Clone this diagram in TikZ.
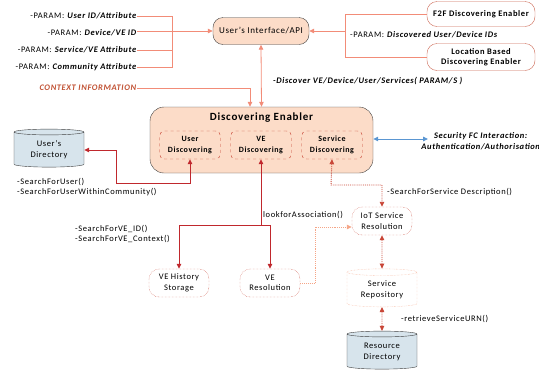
\documentclass[tikz,border=0pt]{standalone}
\usepackage{fontspec}
\setmainfont{Carlito}[LetterSpace=7]
\usetikzlibrary{shapes.geometric,arrows.meta}
\definecolor{peach}{RGB}{252,220,200}
\definecolor{dgray}{RGB}{64,64,64}
\definecolor{salmonl}{RGB}{242,140,120}
\definecolor{redl}{RGB}{192,40,45}
\definecolor{redd}{RGB}{200,70,55}
\definecolor{salmond}{RGB}{245,165,135}
\definecolor{bluel}{RGB}{90,150,210}
\definecolor{cylfill}{RGB}{215,228,236}
\definecolor{ctxcol}{RGB}{192,80,50}
\definecolor{enbord}{RGB}{205,105,85}
\tikzset{
  txt/.style={font=\fontsize{8.5}{10.5}\selectfont, inner sep=0pt},
  uibox/.style={draw=dgray, fill=peach, rounded corners=10pt, minimum width=96, minimum height=27, font=\fontsize{9}{10.5}\selectfont, inner sep=1pt, align=center},
  enbox/.style={draw=enbord, fill=white, rounded corners=10pt, minimum width=108, minimum height=25, font=\fontsize{8.5}{10.5}\selectfont\bfseries, inner sep=1pt, align=center},
  debox/.style={draw=dgray, fill=peach, rounded corners=14pt, minimum width=223, minimum height=66, inner sep=0pt},
  subbox/.style={draw=redd, dashed, fill=peach, rounded corners=5pt, minimum width=61, minimum height=28, font=\fontsize{8}{10.5}\selectfont\bfseries, align=center, inner sep=1pt},
  dotbox/.style={draw=redd, densely dotted, fill=white, rounded corners=10pt, minimum width=60, minimum height=28, font=\fontsize{8.5}{10.5}\selectfont, align=center, inner sep=1pt},
  cyl/.style={cylinder, shape border rotate=90, aspect=0.15, draw=dgray, fill=cylfill, minimum height=38, minimum width=70, font=\fontsize{8.5}{11}\selectfont, align=center, inner sep=1pt},
  tip/.style={-{Triangle[length=5pt,width=4.5pt]}},
  btip/.style={{Triangle[length=5pt,width=4.5pt]}-{Triangle[length=5pt,width=4.5pt]}},
  sline/.style={draw=salmonl, line width=0.8pt},
  rline/.style={draw=redl, line width=1pt},
  rdot/.style={draw=redd, line width=0.9pt, densely dotted},
}
\begin{document}
\begin{tikzpicture}[x=1pt,y=-1pt]
\useasboundingbox (0,0) rectangle (539,373);
% top-left parameters
\node[txt, anchor=east] (p1) at (137,16) {-PARAM: \textbf{\textit{User ID/Attribute}}};
\node[txt, anchor=east] (p2) at (137,33) {-PARAM: \textbf{\textit{Device/VE ID}}};
\node[txt, anchor=east] (p3) at (137,50) {-PARAM: \textbf{\textit{Service/VE Attribute}}};
\node[txt, anchor=east] (p4) at (137,67) {-PARAM: \textbf{\textit{Community Attribute}}};
\node[txt, anchor=east, text=ctxcol] (ctx) at (137,88) {\textbf{\textit{CONTEXT INFORMATION}}};
\coordinate (jl) at (172,33);
% user's interface
\node[uibox] (ui) at (261,31) {User's Interface/API};
% enablers
\node[enbox] (f2f) at (481,14) {F2F Discovering Enabler};
\node[enbox, minimum height=27] (loc) at (481,57) {Location Based\\Discovering Enabler};
\coordinate (jr) at (345,31);
\node[txt, anchor=west] (pd) at (350,35) {-PARAM: \textbf{\textit{Discovered User/Device IDs}}};
\node[txt, anchor=west] (disc) at (273,81) {\textbf{\textit{-Discover VE/Device/User/Services( PARAM/S )}}};
% discovering enabler
\node[debox] (de) at (261.5,140) {};
\node[font=\fontsize{11}{13}\selectfont\bfseries, inner sep=0pt] (detitle) at (261.5,118) {Discovering Enabler};
\node[subbox] (ud) at (190,145) {User\\Discovering};
\node[subbox] (vd) at (261,145) {VE\\Discovering};
\node[subbox] (sd) at (332,145) {Service\\Discovering};
% security
\coordinate (secend) at (428,139);
\node[txt, align=center] (sec) at (481,141) {\textbf{\textit{Security FC Interaction:}}\\\textbf{\textit{Authentication/Authorisation}}};
% users directory
\node[cyl] (udir) at (49,150) {User's\\Directory};
\node[txt, anchor=north west, align=left] (sfu) at (17,178) {-SearchForUser()\\-SearchForUserWithinCommunity()};
\coordinate (c1) at (116,183);
% VE branch
\coordinate (c2) at (261,225);
\node[txt, anchor=west] (lfa) at (263,215) {lookforAssociation()};
\node[txt, anchor=north west, align=left] (sfv) at (75,225) {-SearchForVE\_ID()\\-SearchForVE\_Context()};
\node[dotbox] (vh) at (179,283) {VE History\\Storage};
\node[dotbox] (vr) at (270,283) {VE\\Resolution};
% service branch
\coordinate (c3) at (331,185);
\node[txt, anchor=west] (sfs) at (387,192) {-SearchForService Description()};
\node[dotbox] (iot) at (382,221) {IoT Service\\Resolution};
\coordinate (c4) at (315,283);
\node[cyl, draw=salmond, densely dotted, fill=white] (srep) at (382,290) {Service\\Repository};
\node[txt, anchor=west] (rsu) at (401,319) {-retrieveServiceURN()};
\node[cyl] (rdir) at (382,352) {Resource\\Directory};
% connectors: params
\draw[sline] (p1.east) -| (jl);
\draw[sline] (p3.east) -| (jl);
\draw[sline] (p4.east) -| (jl);
\draw[sline, tip] (p2.east |- ui.west) -- (ui.west);
\draw[sline, tip] (ctx.east) -| ([xshift=-11.5]de.north);
\draw[sline, btip] (ui.south) -- (de.north);
\draw[sline] (f2f.west) -| (jr);
\draw[sline] (loc.west) -| (jr);
\draw[sline, tip] (jr) -- (ui.east);
% security
\draw[draw=bluel, line width=0.9pt, btip] (de.east |- secend) -- (secend);
% user directory
\draw[rline, btip] (ud.south) |- (c1) |- (udir.east);
% VE
\draw[rline, {Triangle[length=5pt,width=4.5pt]}-] (vd.south) -- (c2);
\draw[rline, tip] (c2) -| (vh.north);
\draw[rline, tip] (c2) -| (vr.north);
% service
\draw[rdot, btip] (sd.south) -- (c3) -| (iot.north);
\draw[draw=salmond, line width=0.9pt, densely dotted, tip] (vr.east) -- (c4) |- ([yshift=-6]iot.west);
\draw[rdot, btip] (iot.south) -- (srep.north);
\draw[rdot, btip] (srep.south) -- (rdir.north);
\end{tikzpicture}
\end{document}
